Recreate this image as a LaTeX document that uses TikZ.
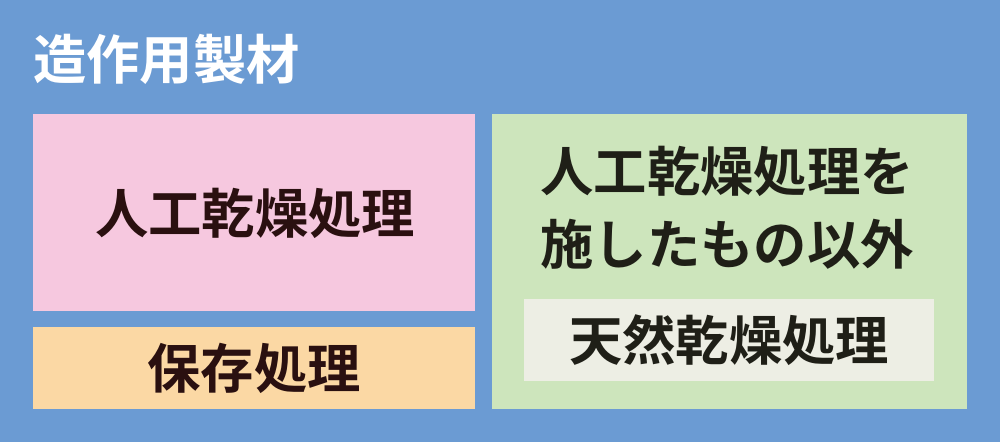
\documentclass[tikz,border=0pt]{standalone}
\usepackage{fontspec}
\newfontfamily\jpfont{Noto Sans CJK JP}[BoldFont={* Bold}]
\definecolor{bgblue}{HTML}{6B9BD3}
\definecolor{artpink}{HTML}{F6C8DF}
\definecolor{presorange}{HTML}{FBD8A4}
\definecolor{othgreen}{HTML}{CDE5BC}
\definecolor{natgray}{HTML}{EDEEE4}
\definecolor{inkbrown}{HTML}{2A1010}
\definecolor{inkgreen}{HTML}{1F1F17}
\tikzset{
  lbl/.style={font=\jpfont\bfseries\fontsize{40}{55}\selectfont,inner sep=0pt,align=center},
}
\begin{document}
\begin{tikzpicture}[x=0.75pt,y=-0.75pt]
\fill[bgblue] (0,0) rectangle (1000,442);
\useasboundingbox (0,0) rectangle (1000,442);
\node[lbl,white,anchor=west] (title) at (33,59) {造作用製材};
\fill[artpink] (33,114) rectangle (475,311);
\node[lbl,inkbrown] (art) at (255,213) {人工乾燥処理};
\fill[presorange] (33,327) rectangle (475,409);
\node[lbl,inkbrown] (pres) at (254,368) {保存処理};
\fill[othgreen] (492,114) rectangle (967,409);
\node[lbl,inkgreen] (oth) at (727,208) {人工乾燥処理を\\施したもの以外};
\fill[natgray] (524,299) rectangle (934,381);
\node[lbl,inkgreen] (nat) at (729,340) {天然乾燥処理};
\end{tikzpicture}
\end{document}
